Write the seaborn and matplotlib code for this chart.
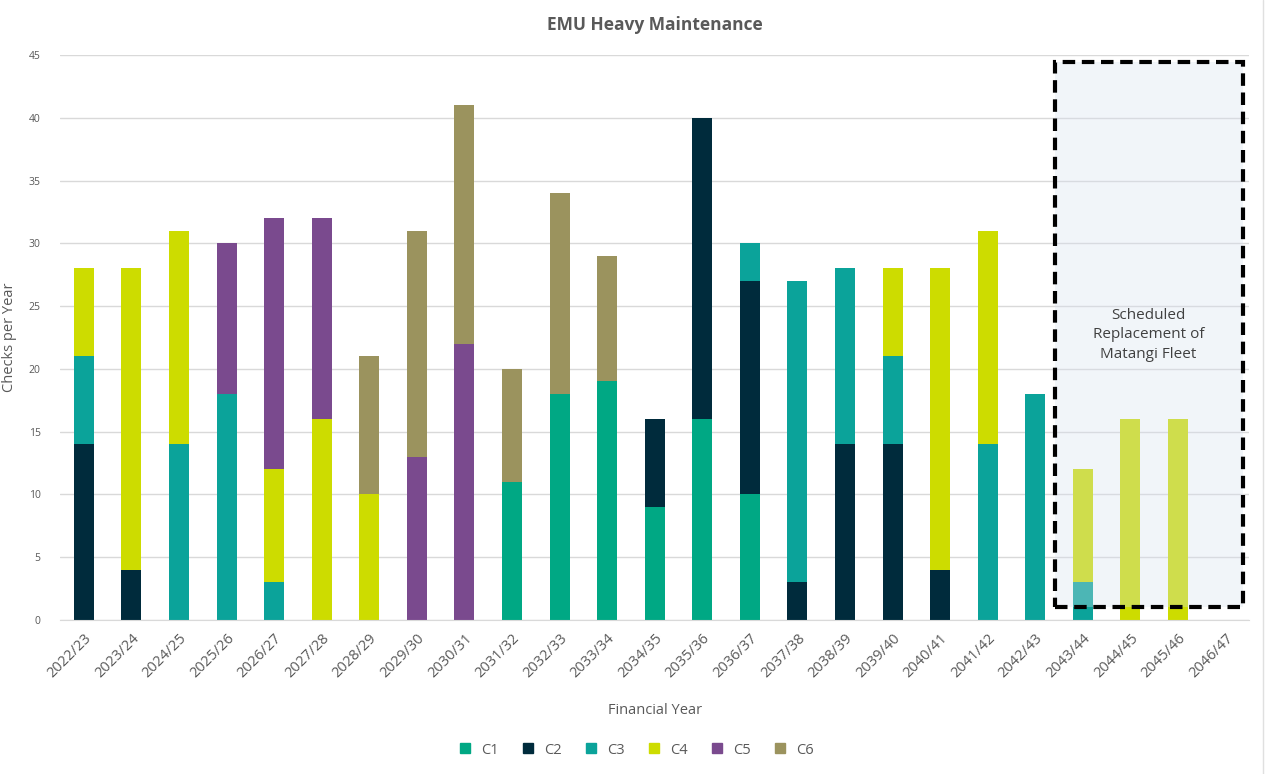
import matplotlib
matplotlib.use("Agg")
import matplotlib.pyplot as plt
import seaborn as sns
import pandas as pd
from matplotlib.patches import Rectangle
from matplotlib.lines import Line2D

years = ["2022/23", "2023/24", "2024/25", "2025/26", "2026/27", "2027/28", "2028/29",
         "2029/30", "2030/31", "2031/32", "2032/33", "2033/34", "2034/35", "2035/36",
         "2036/37", "2037/38", "2038/39", "2039/40", "2040/41", "2041/42", "2042/43",
         "2043/44", "2044/45", "2045/46", "2046/47"]

c1 = [0, 0, 0, 0, 0, 0, 0, 0, 0, 11, 18, 19, 9, 16, 10, 0, 0, 0, 0, 0, 0, 0, 0, 0, 0]
c2 = [14, 4, 0, 0, 0, 0, 0, 0, 0, 0, 0, 0, 7, 24, 17, 3, 14, 14, 4, 0, 0, 0, 0, 0, 0]
c3 = [7, 0, 14, 18, 3, 0, 0, 0, 0, 0, 0, 0, 0, 0, 3, 24, 14, 7, 0, 14, 18, 3, 0, 0, 0]
c4 = [7, 24, 17, 0, 9, 16, 10, 0, 0, 0, 0, 0, 0, 0, 0, 0, 0, 7, 24, 17, 0, 9, 16, 16, 0]
c5 = [0, 0, 0, 12, 20, 16, 0, 13, 22, 0, 0, 0, 0, 0, 0, 0, 0, 0, 0, 0, 0, 0, 0, 0, 0]
c6 = [0, 0, 0, 0, 0, 0, 11, 18, 19, 9, 16, 10, 0, 0, 0, 0, 0, 0, 0, 0, 0, 0, 0, 0, 0]

series = ["C1", "C2", "C3", "C4", "C5", "C6"]
colors = ["#00a884", "#002b3c", "#0ba39a", "#cddc00", "#7a4a8e", "#9b935e"]

df = pd.DataFrame({"year": years, "C1": c1, "C2": c2, "C3": c3,
                   "C4": c4, "C5": c5, "C6": c6})
cum = df[series].cumsum(axis=1)

sns.set_style("white")
plt.rcParams["font.family"] = ["Open Sans", "DejaVu Sans"]

fig = plt.figure(figsize=(12.72, 7.74), dpi=100)
ax = fig.add_axes([0.0472, 0.199, 0.935, 0.730])

# stacked bars: draw cumulative totals from top series down
for name, col in reversed(list(zip(series, colors))):
    sns.barplot(x=df["year"], y=cum[name], order=years, color=col,
                width=0.42, saturation=1, linewidth=0, ax=ax, zorder=2)

ax.set_ylim(0, 45)
ax.set_xlim(-0.5, 24.5)
ax.set_yticks(range(0, 46, 5))
ax.yaxis.grid(True, color="#d9d9d9", linewidth=1, zorder=0)
ax.set_axisbelow(True)
for s in ["top", "right", "left"]:
    ax.spines[s].set_visible(False)
ax.spines["bottom"].set_color("#d9d9d9")
ax.tick_params(axis="y", labelsize=7.5, labelcolor="#595959", length=0, pad=14)
ax.tick_params(axis="x", labelsize=10.5, labelcolor="#595959", length=0, pad=8)
plt.setp(ax.get_xticklabels(), rotation=45, ha="right", rotation_mode="anchor")

ax.set_xlabel("Financial Year", fontsize=10.5, color="#595959", labelpad=16)
ax.set_ylabel("Checks per Year", fontsize=10.5, color="#595959", labelpad=8)
ax.set_title("EMU Heavy Maintenance", fontsize=12.5, fontweight="bold",
             color="#595959", pad=18)

# replacement box
box = Rectangle((20.41, 1.05), 3.95, 43.4, facecolor="#d6e0ef", alpha=0.32,
                edgecolor="none", zorder=3)
ax.add_patch(box)
frame = Rectangle((20.41, 1.05), 3.95, 43.4, facecolor="none", edgecolor="black",
                  linewidth=3, linestyle=(0, (3, 1.6)), zorder=4)
ax.add_patch(frame)
ax.text(22.38, 22.7, "Scheduled\nReplacement of\nMatangi Fleet", ha="center",
        va="center", fontsize=11, color="#404040", linespacing=1.45, zorder=5)

handles = [Line2D([], [], marker="s", linestyle="none", markersize=7,
                  markerfacecolor=c, markeredgecolor=c) for c in colors]
fig.legend(handles, series, loc="center", bbox_to_anchor=(0.497, 0.031), ncol=6,
           frameon=False, fontsize=10.5, labelcolor="#595959",
           handletextpad=0.1, columnspacing=1.0)

fig.add_artist(Line2D([0.993, 0.993], [0.0, 1.0], color="#e0e0e0", linewidth=1))

fig.savefig("out.png", dpi=100)
